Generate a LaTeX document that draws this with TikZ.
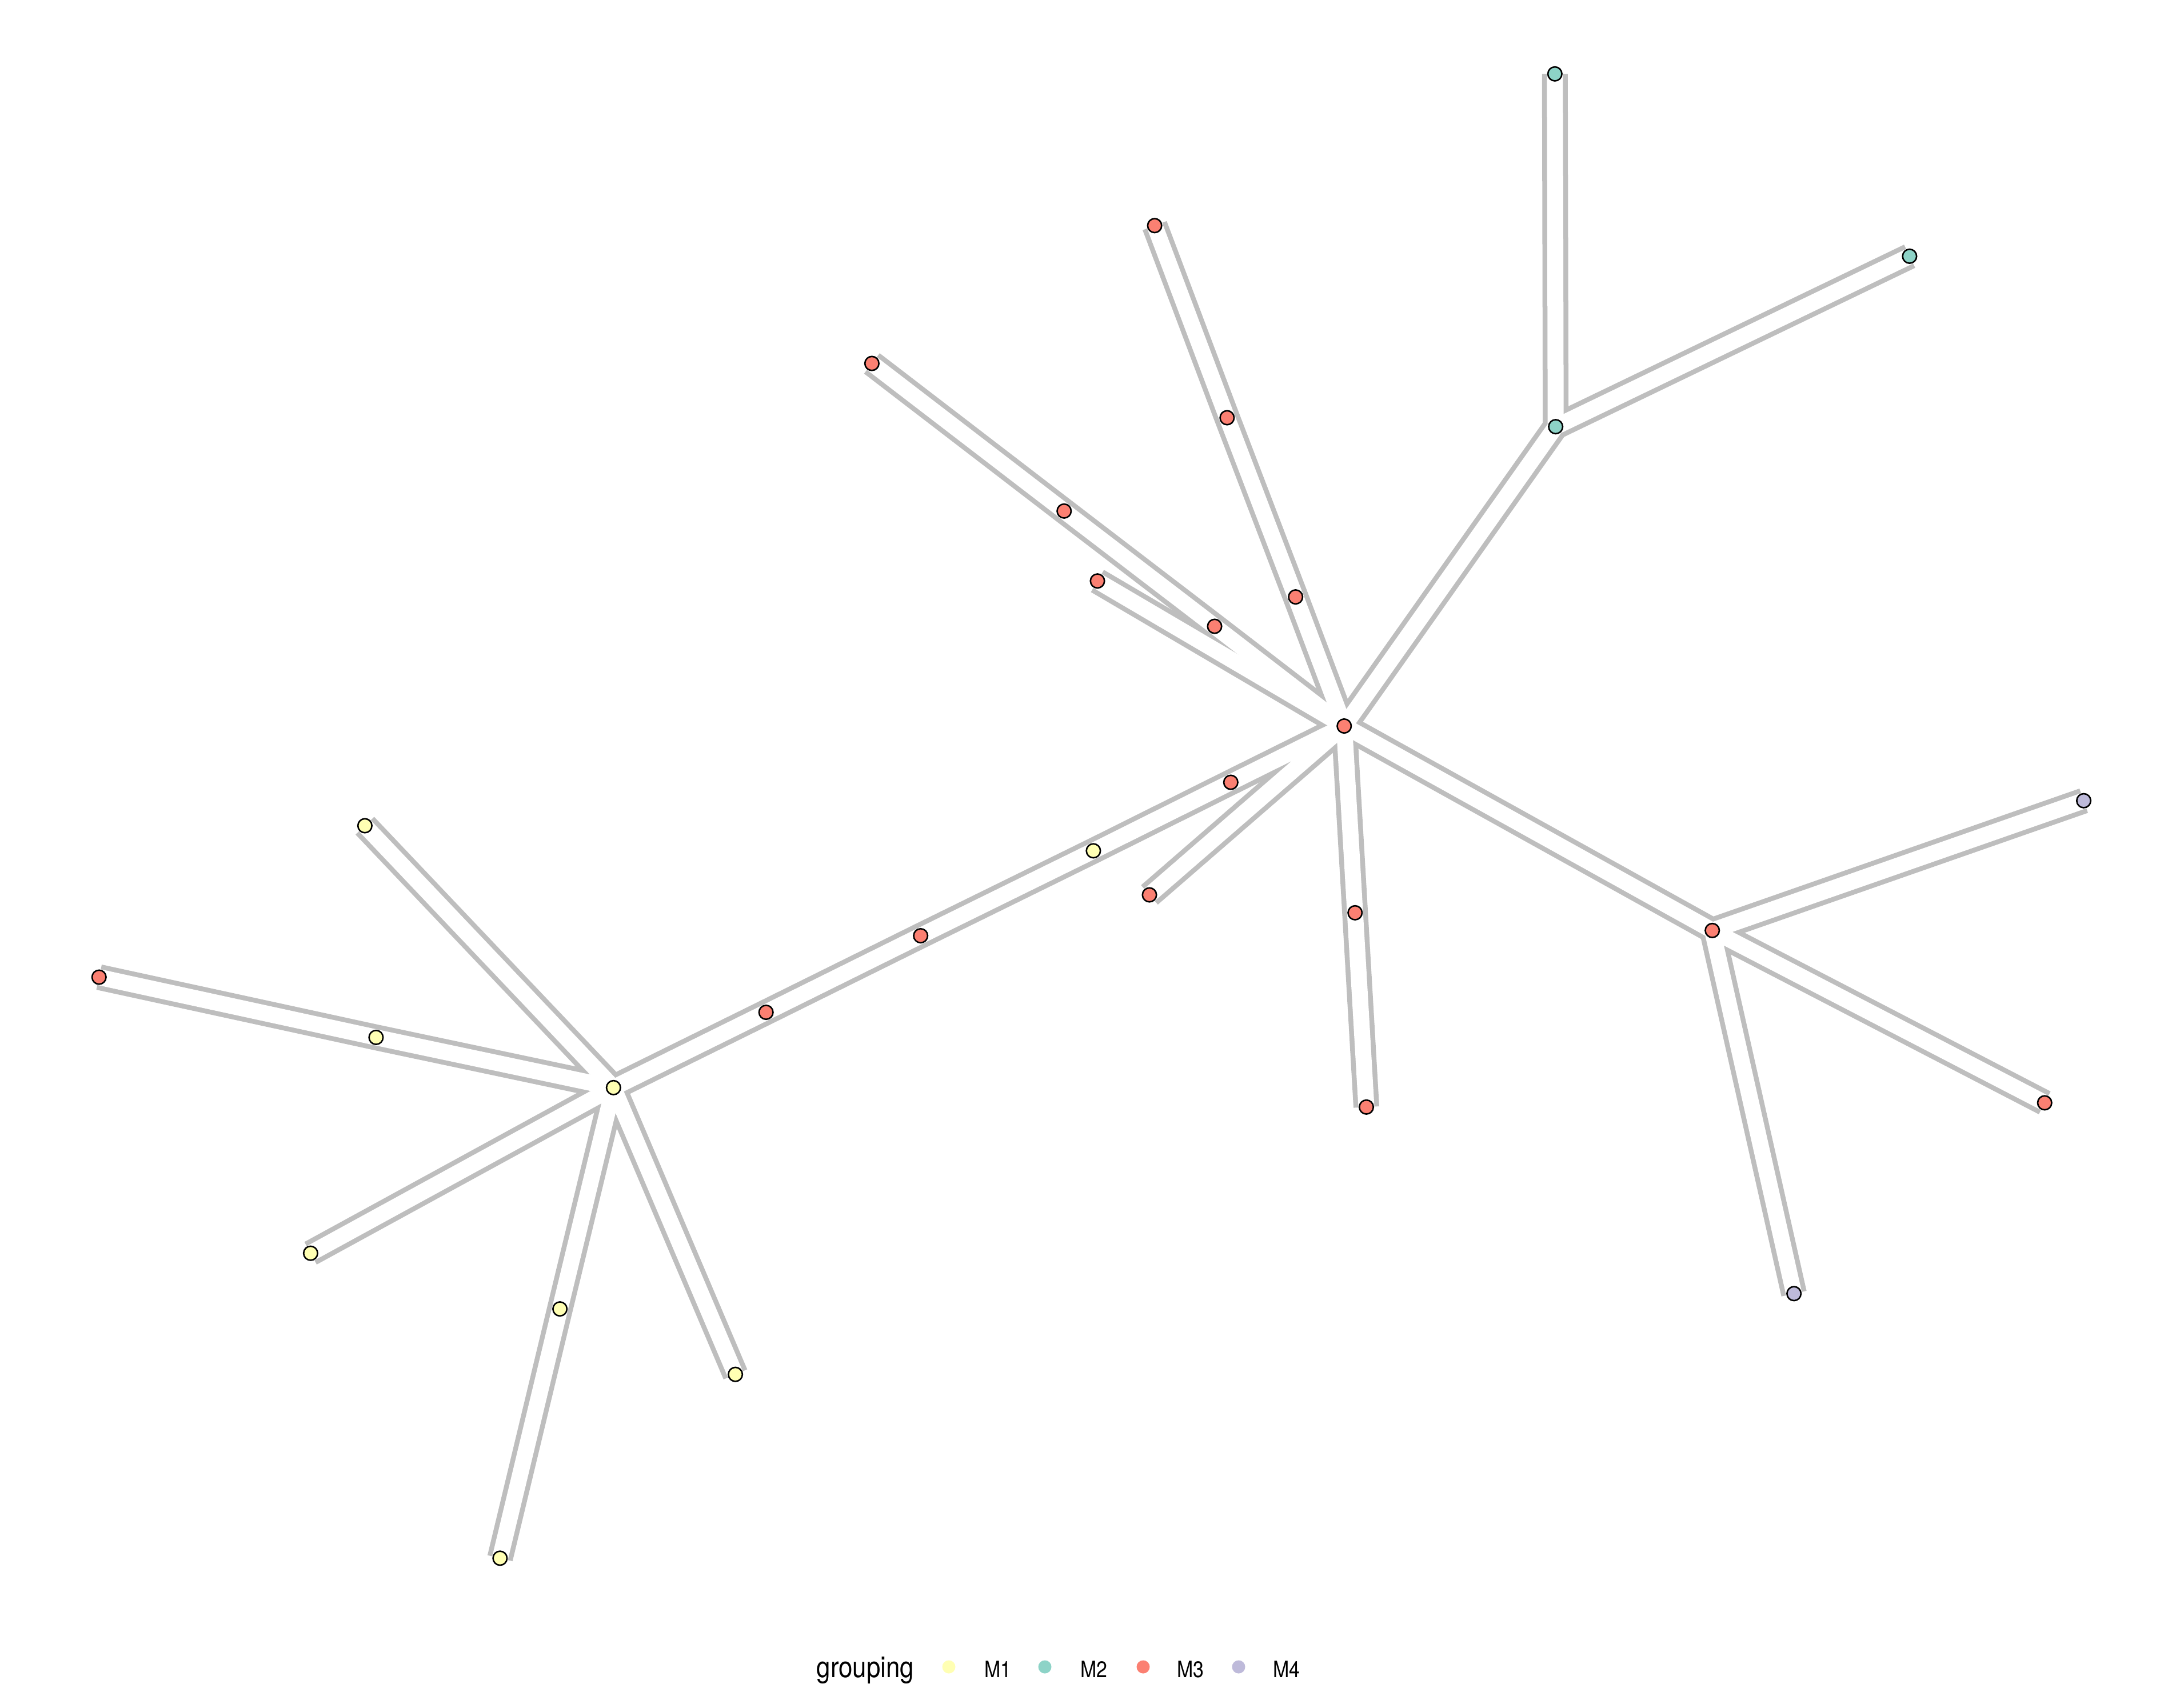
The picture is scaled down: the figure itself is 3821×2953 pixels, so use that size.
\documentclass[tikz,border=0pt]{standalone}
\usepackage{fontspec}
\newfontfamily\legfont[FakeStretch=0.86]{TeX Gyre Heros}
\definecolor{cM1}{HTML}{FFFFB3}
\definecolor{cM2}{HTML}{8DD3C7}
\definecolor{cM3}{HTML}{FB8072}
\definecolor{cM4}{HTML}{BEBADA}
\definecolor{edgegray}{HTML}{BEBEBE}
\tikzset{
  outerband/.style={draw=edgegray, line width=0.45cm, line cap=butt, line join=miter},
  innerband/.style={draw=white, line width=0.28cm, line cap=butt, line join=miter},
  dot/.style={circle, draw=black, line width=0.026cm, fill=#1, minimum size=0.245cm, inner sep=0pt},
  legdot/.style={circle, fill=#1, draw=none, minimum size=0.23cm, inner sep=0pt},
  legtitle/.style={anchor=base west, inner sep=0pt, font=\legfont\fontsize{14.5}{14.5}\selectfont},
  leglabel/.style={anchor=base west, inner sep=0pt, font=\legfont\fontsize{11.2}{11.2}\selectfont}
}
\begin{document}
\begin{tikzpicture}[x=0.01cm, y=-0.01cm]
\useasboundingbox[fill=white] (0,0) rectangle (3821,2953);
% positions
\coordinate (A) at (1073.3,1903.3);
\coordinate (B) at (2351.7,1270.5);
\coordinate (C) at (2995.7,1628.3);
\coordinate (D) at (2721.7,746.7);
\coordinate (E) at (2720.3,129.3);
\coordinate (F) at (3340.9,448.4);
\coordinate (G) at (3645.5,1401.2);
\coordinate (H) at (3138.6,2263.8);
\coordinate (I) at (3577.2,1929.9);
\coordinate (J) at (2390.5,1937.3);
\coordinate (K) at (2370.7,1597.3);
\coordinate (L) at (2011.0,1566.0);
\coordinate (M) at (2153.3,1369.0);
\coordinate (N) at (1912.9,1488.9);
\coordinate (O) at (1610.7,1637.5);
\coordinate (P) at (1340.2,1771.5);
\coordinate (Q) at (2020.1,394.8);
\coordinate (R) at (2146.8,731.0);
\coordinate (S) at (2266.7,1044.6);
\coordinate (T) at (1525.4,636.0);
\coordinate (U) at (1861.7,894.3);
\coordinate (V) at (2125.0,1096.0);
\coordinate (W) at (1920.0,1016.7);
\coordinate (X) at (638.4,1445.0);
\coordinate (Y) at (173.3,1710.0);
\coordinate (Z) at (657.9,1815.4);
\coordinate (AA) at (543.4,2193.1);
\coordinate (AB) at (979.6,2290.6);
\coordinate (AC) at (1286.6,2405.1);
\coordinate (AD) at (874.8,2726.8);
% edges: gray layer then white layer
\foreach \st in {outerband, innerband}{
  \draw[\st] (B) -- (D) -- (E);
  \draw[\st] (D) -- (F);
  \draw[\st] (B) -- (C) -- (G);
  \draw[\st] (C) -- (I);
  \draw[\st] (C) -- (H);
  \draw[\st] (B) -- (K) -- (J);
  \draw[\st] (B) -- (S) -- (R) -- (Q);
  \draw[\st] (B) -- (V) -- (U) -- (T);
  \draw[\st] (B) -- (W);
  \draw[\st] (B) -- (L);
  \draw[\st] (B) -- (M) -- (N) -- (O) -- (P) -- (A);
  \draw[\st] (A) -- (X);
  \draw[\st] (A) -- (Z) -- (Y);
  \draw[\st] (A) -- (AA);
  \draw[\st] (A) -- (AB) -- (AD);
  \draw[\st] (A) -- (AC);
}
% nodes
\node[dot=cM1] (nA) at (A) {};
\node[dot=cM3] (nB) at (B) {};
\node[dot=cM3] (nC) at (C) {};
\node[dot=cM2] (nD) at (D) {};
\node[dot=cM2] (nE) at (E) {};
\node[dot=cM2] (nF) at (F) {};
\node[dot=cM4] (nG) at (G) {};
\node[dot=cM4] (nH) at (H) {};
\node[dot=cM3] (nI) at (I) {};
\node[dot=cM3] (nJ) at (J) {};
\node[dot=cM3] (nK) at (K) {};
\node[dot=cM3] (nL) at (L) {};
\node[dot=cM3] (nM) at (M) {};
\node[dot=cM1] (nN) at (N) {};
\node[dot=cM3] (nO) at (O) {};
\node[dot=cM3] (nP) at (P) {};
\node[dot=cM3] (nQ) at (Q) {};
\node[dot=cM3] (nR) at (R) {};
\node[dot=cM3] (nS) at (S) {};
\node[dot=cM3] (nT) at (T) {};
\node[dot=cM3] (nU) at (U) {};
\node[dot=cM3] (nV) at (V) {};
\node[dot=cM3] (nW) at (W) {};
\node[dot=cM1] (nX) at (X) {};
\node[dot=cM3] (nY) at (Y) {};
\node[dot=cM1] (nZ) at (Z) {};
\node[dot=cM1] (nAA) at (AA) {};
\node[dot=cM1] (nAB) at (AB) {};
\node[dot=cM1] (nAC) at (AC) {};
\node[dot=cM1] (nAD) at (AD) {};
% legend
\node[legtitle] (legT) at (1428,2935) {grouping};
\node[legdot=cM1] (ld1) at (1660,2917) {};
\node[leglabel] (ll1) at (1722,2935) {M1};
\node[legdot=cM2] (ld2) at (1828,2917) {};
\node[leglabel] (ll2) at (1890,2935) {M2};
\node[legdot=cM3] (ld3) at (2000,2917) {};
\node[leglabel] (ll3) at (2059,2935) {M3};
\node[legdot=cM4] (ld4) at (2167,2917) {};
\node[leglabel] (ll4) at (2227,2935) {M4};
\end{tikzpicture}
\end{document}
